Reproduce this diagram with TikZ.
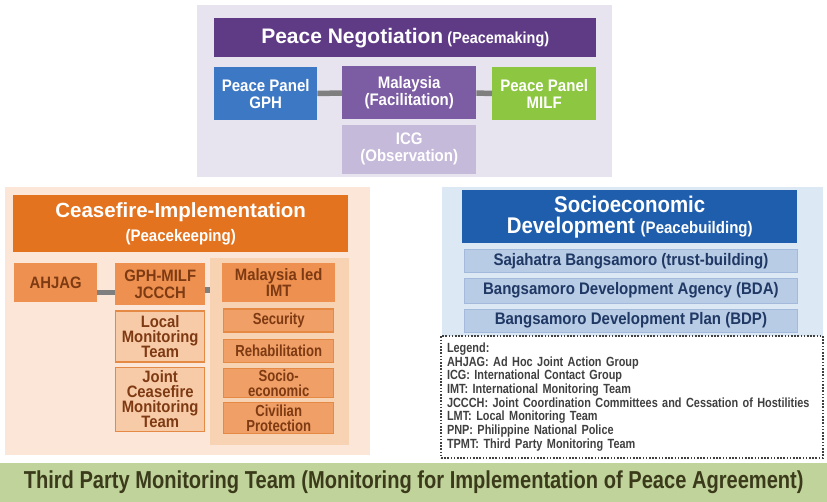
\documentclass[tikz,border=0pt]{standalone}
\usepackage{fontspec}
\setmainfont{Liberation Sans}
\newfontfamily\narrowsans[FakeStretch=0.9]{Liberation Sans}
\newfontfamily\condsans[FakeStretch=0.82]{Liberation Sans}
\usepackage{xcolor}
\usetikzlibrary{positioning}

% colours of the three tracks
\definecolor{negbg}{HTML}{E8E4EF}
\definecolor{negdark}{HTML}{5F3B86}
\definecolor{negmid}{HTML}{7C5CA3}
\definecolor{neglight}{HTML}{C6BADA}
\definecolor{gphblue}{HTML}{3D78C4}
\definecolor{milfgreen}{HTML}{8DC641}
\definecolor{cfbg}{HTML}{FBE6D7}
\definecolor{cfdark}{HTML}{E4731F}
\definecolor{cfmid}{HTML}{EE9150}
\definecolor{cflight}{HTML}{F8CBA8}
\definecolor{cfpanel}{HTML}{F7D3B4}
\definecolor{cfline}{HTML}{E48A45}
\definecolor{cftext}{HTML}{7E3A12}
\definecolor{sebg}{HTML}{DCE8F3}
\definecolor{sedark}{HTML}{1F5EAD}
\definecolor{selight}{HTML}{B9CCE6}
\definecolor{seline}{HTML}{A3BADC}
\definecolor{setext}{HTML}{1F3864}
\definecolor{tpgreen}{HTML}{C0D39A}
\definecolor{tptext}{HTML}{3B3B1B}
\definecolor{linkgrey}{HTML}{7F7F7F}

\newcommand{\fsz}[1]{\fontsize{#1}{#1}\selectfont}

\begin{document}
\begin{tikzpicture}[x=1pt, y=-1pt,
      font=\bfseries,
      box/.style={anchor=north west, align=center, inner sep=0pt},
      negbox/.style={box, text=white, font=\narrowsans\bfseries\fsz{16.7}},
      cfbox/.style={box, fill=cfmid, text=cftext, font=\narrowsans\bfseries\fsz{16.5}},
      cfsub/.style={box, fill=cflight, draw=cfline, line width=1.2pt, text=cftext, font=\narrowsans\bfseries\fontsize{16.5}{15}\selectfont},
      imtsub/.style={box, fill=cfmid!75!cflight, draw=cfline, line width=1.2pt, text=cftext, font=\condsans\bfseries\fontsize{16}{15}\selectfont, minimum width=110pt},
      sesub/.style={box, fill=selight, draw=seline, line width=0.8pt, text=setext, font=\narrowsans\bfseries\fsz{16.7}, minimum width=333pt},
      link/.style={draw=linkgrey, line width=5.5pt}]
    \useasboundingbox[fill=white] (0,0) rectangle (827,502);

    % backgrounds
    \node[box, fill=negbg, minimum width=415pt, minimum height=172pt] (negbg) at (197,5) {};
    \node[box, fill=cfbg, minimum width=365pt, minimum height=268pt] (cfbg) at (5,187) {};
    \node[box, fill=sebg, minimum width=381pt, minimum height=150pt] (sebg) at (442,187) {};

    % peacemaking
    \node[negbox, fill=negdark, minimum width=382pt, minimum height=39pt] (neg) at (214,18)
      {{\normalfont\bfseries\fsz{21}Peace Negotiation} {\fsz{16}(Peacemaking)}};
    \node[negbox, fill=gphblue, minimum width=103pt, minimum height=53pt] (gph) at (214,67) {Peace Panel\\GPH};
    \node[negbox, fill=negmid, minimum width=134pt, minimum height=53pt] (mal) at (342,66) {Malaysia\\(Facilitation)};
    \node[negbox, fill=milfgreen, minimum width=104pt, minimum height=53pt] (milf) at (492,67) {Peace Panel\\MILF};
    \node[negbox, fill=neglight, minimum width=134pt, minimum height=49pt, below=5pt of mal] (icg) {ICG\\(Observation)};
    \draw[link] (gph) -- (mal);
    \draw[link] (mal) -- (milf);

    % peacekeeping
    \node[box, fill=cfdark, text=white, minimum width=335pt, minimum height=57pt] (cf) at (13,195)
      {{\fsz{20.5}Ceasefire-Implementation}\\[7pt]{\narrowsans\bfseries\fsz{16.7}(Peacekeeping)}};
    \node[cfbox, minimum width=83pt, minimum height=39pt] (ahjag) at (14,263) {AHJAG};
    \node[cfbox, minimum width=90pt, minimum height=42pt] (jccch) at (115,263) {GPH-MILF\\JCCCH};
    \node[cfsub, minimum width=89pt, minimum height=51pt, below=5pt of jccch] (lmt) {Local\\Monitoring\\Team};
    \node[cfsub, minimum width=89pt, minimum height=64pt, below=4pt of lmt] (jcmt) {Joint\\Ceasefire\\Monitoring\\Team};
    \node[box, fill=cfpanel, minimum width=139pt, minimum height=187pt] (imtbg) at (210,258) {};
    \node[cfbox, minimum width=113pt, minimum height=39pt] (imt) at (222,263) {Malaysia led\\IMT};
    \node[imtsub, minimum height=23pt, below=6pt of imt] (sec) {Security};
    \node[imtsub, minimum height=23pt, below=6pt of sec] (reh) {Rehabilitation};
    \node[imtsub, minimum height=29pt, below=5pt of reh] (soc) {Socio-\\economic};
    \node[imtsub, minimum height=31pt, below=4pt of soc] (civ) {Civilian\\Protection};
    \draw[link] ([yshift=-10pt]ahjag.east) -- ([yshift=-10pt]ahjag.east -| jccch.west);
    \draw[link] ([yshift=-6pt]jccch.east) -- ([yshift=-6pt]jccch.east -| imtbg.west);

    % peacebuilding
    \node[box, fill=sedark, text=white, minimum width=335pt, minimum height=53pt,
          font=\narrowsans\bfseries\fontsize{22.7}{21}\selectfont] (se) at (462,190)
      {Socioeconomic\\Development {\fsz{16.7}(Peacebuilding)}};
    \node[sesub, minimum height=23pt] (saj) at (464,249) {Sajahatra Bangsamoro (trust-building)};
    \node[sesub, minimum height=25pt, below=5pt of saj] (bda) {Bangsamoro Development Agency (BDA)};
    \node[sesub, minimum height=23pt, below=5pt of bda] (bdp) {Bangsamoro Development Plan (BDP)};

    % legend
    \node[box, fill=white, draw=black!75, line width=2pt, dash pattern=on 1.6pt off 1.6pt,
          minimum width=382pt, minimum height=122pt, text width=370pt, align=left,
          text=black!75, font=\condsans\bfseries\fontsize{13.3}{13.7}\selectfont] (legend) at (440,335)
      {Legend:\\
       AHJAG: Ad Hoc Joint Action Group\\
       ICG: International Contact Group\\
       IMT: International Monitoring Team\\
       JCCCH: Joint Coordination Committees and Cessation of Hostilities\\
       LMT: Local Monitoring Team\\
       PNP: Philippine National Police\\
       TPMT: Third Party Monitoring Team};

    % monitoring
    \node[box, fill=tpgreen, text=tptext, minimum width=827pt, minimum height=39pt,
          font=\condsans\bfseries\fsz{24.5}] (tpmt) at (0,463)
      {Third Party Monitoring Team (Monitoring for Implementation of Peace Agreement)};
  \end{tikzpicture}
\end{document}
